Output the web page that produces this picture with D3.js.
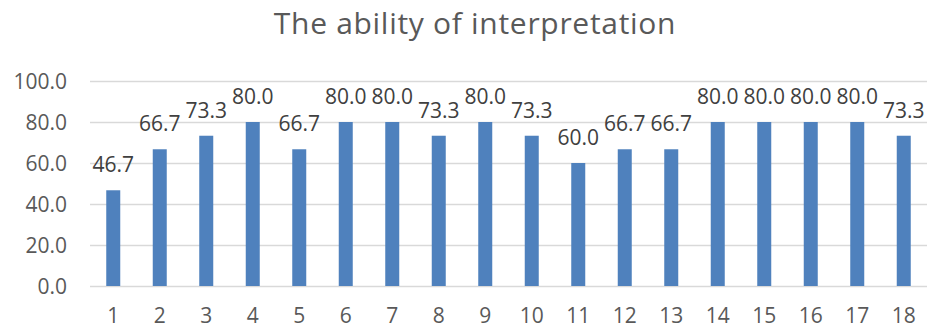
<!DOCTYPE html>
<html>
<head>
<meta charset="utf-8">
<script src="https://cdn.jsdelivr.net/npm/d3@7"></script>
<style>
  html, body { margin: 0; padding: 0; background: #fff; }
  svg { display: block; font-family: "Open Sans", "Liberation Sans", sans-serif; }
</style>
</head>
<body>
<svg id="chart" width="927" height="329"></svg>
<script>
// Interpretation scores per item
const categories = ["1","2","3","4","5","6","7","8","9","10","11","12","13","14","15","16","17","18"];
const scores = [46.7, 66.7, 73.3, 80.0, 66.7, 80.0, 80.0, 73.3, 80.0, 73.3, 60.0, 66.7, 66.7, 80.0, 80.0, 80.0, 80.0, 73.3];
const yTicks = [0, 20, 40, 60, 80, 100];
const title = "The ability of interpretation";

const svg = d3.select("#chart");
const margin = { left: 90, right: 0, top: 81, bottom: 43 };
const W = 927, H = 329;

const x = d3.scaleBand()
  .domain(categories)
  .range([margin.left, W - margin.right])
  .paddingInner(0.7)
  .paddingOuter(0.35);

const y = d3.scaleLinear()
  .domain([0, 100])
  .range([H - margin.bottom, margin.top]);

// Title
svg.append("text")
  .attr("x", 475)
  .attr("y", 34)
  .attr("text-anchor", "middle")
  .attr("fill", "#595959")
  .attr("font-size", 30)
  .attr("letter-spacing", 0.7)
  .text(title);

// Gridlines
svg.append("g")
  .selectAll("line")
  .data(yTicks)
  .join("line")
  .attr("x1", margin.left)
  .attr("x2", W - margin.right)
  .attr("y1", d => Math.round(y(d)) + 0.5)
  .attr("y2", d => Math.round(y(d)) + 0.5)
  .attr("stroke", "#d9d9d9")
  .attr("stroke-width", 1.3);

// Y axis labels
const yAxis = d3.axisLeft(y).tickValues(yTicks).tickFormat(d3.format(".1f")).tickSize(0).tickPadding(0);
const yg = svg.append("g").attr("transform", "translate(67,0)").call(yAxis);
yg.select(".domain").remove();
yg.selectAll("text")
  .attr("fill", "#595959")
  .attr("font-size", 21)
  .attr("font-family", "'Open Sans', sans-serif")
  .attr("dy", "0.34em");

// X axis labels
const xAxis = d3.axisBottom(x).tickSize(0).tickPadding(0);
const xg = svg.append("g").attr("transform", `translate(0,${H - margin.bottom})`).call(xAxis);
xg.select(".domain").remove();
xg.selectAll("text")
  .attr("fill", "#595959")
  .attr("font-size", 21)
  .attr("font-family", "'Open Sans', sans-serif")
  .attr("dy", null)
  .attr("y", 37);

// Bars
const barW = 14;
svg.append("g")
  .selectAll("rect")
  .data(scores)
  .join("rect")
  .attr("x", (d, i) => x(categories[i]) + x.bandwidth() / 2 - barW / 2)
  .attr("y", d => y(d))
  .attr("width", barW)
  .attr("height", d => y(0) - y(d))
  .attr("fill", "#4f81bd");

// Value labels
svg.append("g")
  .selectAll("text")
  .data(scores)
  .join("text")
  .attr("x", (d, i) => x(categories[i]) + x.bandwidth() / 2)
  .attr("y", d => y(d) - 18)
  .attr("text-anchor", "middle")
  .attr("fill", "#404040")
  .attr("font-size", 21)
  .text(d => d.toFixed(1));
</script>
</body>
</html>
